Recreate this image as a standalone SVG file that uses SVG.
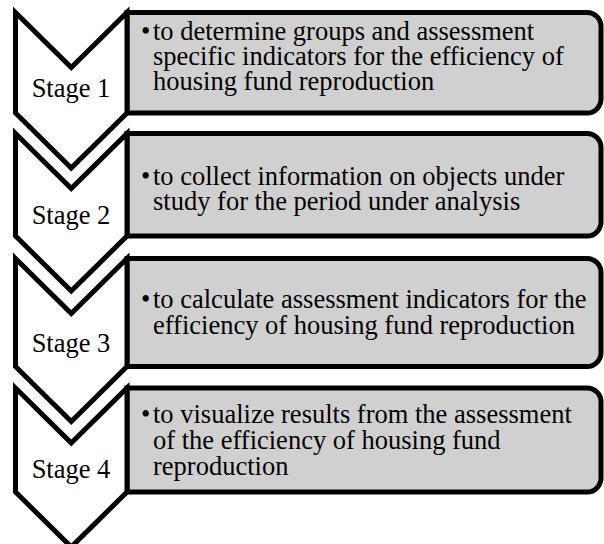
<svg xmlns="http://www.w3.org/2000/svg" width="604" height="544" viewBox="0 0 604 544">
  <style>
    .box { fill: #d0d0d0; stroke: #000; stroke-width: 5; }
    .chev { fill: #fff; stroke: #000; stroke-width: 5; stroke-linejoin: miter; }
    .lbl { font-family: "Liberation Serif", "Times New Roman", serif; font-size: 26.5px; fill: #000; text-anchor: middle; }
    .txt { font-family: "Liberation Serif", "Times New Roman", serif; font-size: 26.5px; fill: #000; }
  </style>
  <rect width="604" height="544" fill="#fff"/>

  <g id="stage1">
    <path class="box" d="M127,12.5 H587 A14,14 0 0 1 601,26.5 V99 A14,14 0 0 1 587,113 H127 Z"/>
    <path class="chev" d="M15.5,12.5 L71.25,67.5 L127,12.5 L127,113 L71.25,168 L15.5,113 Z"/>
    <text class="lbl" x="71" y="97">Stage 1</text>
    <text class="txt"><tspan x="141" y="39.5">•</tspan><tspan x="153" y="39.5">to determine groups and assessment</tspan><tspan x="153" y="65">specific indicators for the efficiency of</tspan><tspan x="153" y="90">housing fund reproduction</tspan></text>
  </g>

  <g id="stage2">
    <path class="box" d="M127,133.5 H587 A14,14 0 0 1 601,147.5 V222 A14,14 0 0 1 587,236 H127 Z"/>
    <path class="chev" d="M15.5,133.5 L71.25,188.5 L127,133.5 L127,236 L71.25,291 L15.5,236 Z"/>
    <text class="lbl" x="71" y="224">Stage 2</text>
    <text class="txt"><tspan x="141" y="185">•</tspan><tspan x="153" y="185">to collect information on objects under</tspan><tspan x="153" y="210">study for the period under analysis</tspan></text>
  </g>

  <g id="stage3">
    <path class="box" d="M127,258.5 H587 A14,14 0 0 1 601,272.5 V352.5 A14,14 0 0 1 587,366.5 H127 Z"/>
    <path class="chev" d="M15.5,258.5 L71.25,313.5 L127,258.5 L127,366.5 L71.25,421.5 L15.5,366.5 Z"/>
    <text class="lbl" x="71" y="352">Stage 3</text>
    <text class="txt"><tspan x="141" y="308">•</tspan><tspan x="153" y="308">to calculate assessment indicators for the</tspan><tspan x="153" y="334">efficiency of housing fund reproduction</tspan></text>
  </g>

  <g id="stage4">
    <path class="box" d="M127,388 H587 A14,14 0 0 1 601,402 V478 A14,14 0 0 1 587,492 H127 Z"/>
    <path class="chev" d="M15.5,388 L71.25,443 L127,388 L127,492 L71.25,547 L15.5,492 Z"/>
    <text class="lbl" x="71" y="478">Stage 4</text>
    <text class="txt"><tspan x="141" y="423">•</tspan><tspan x="153" y="423">to visualize results from the assessment</tspan><tspan x="153" y="449">of the efficiency of housing fund</tspan><tspan x="153" y="475">reproduction</tspan></text>
  </g>

  <g id="connectors"></g>
</svg>
